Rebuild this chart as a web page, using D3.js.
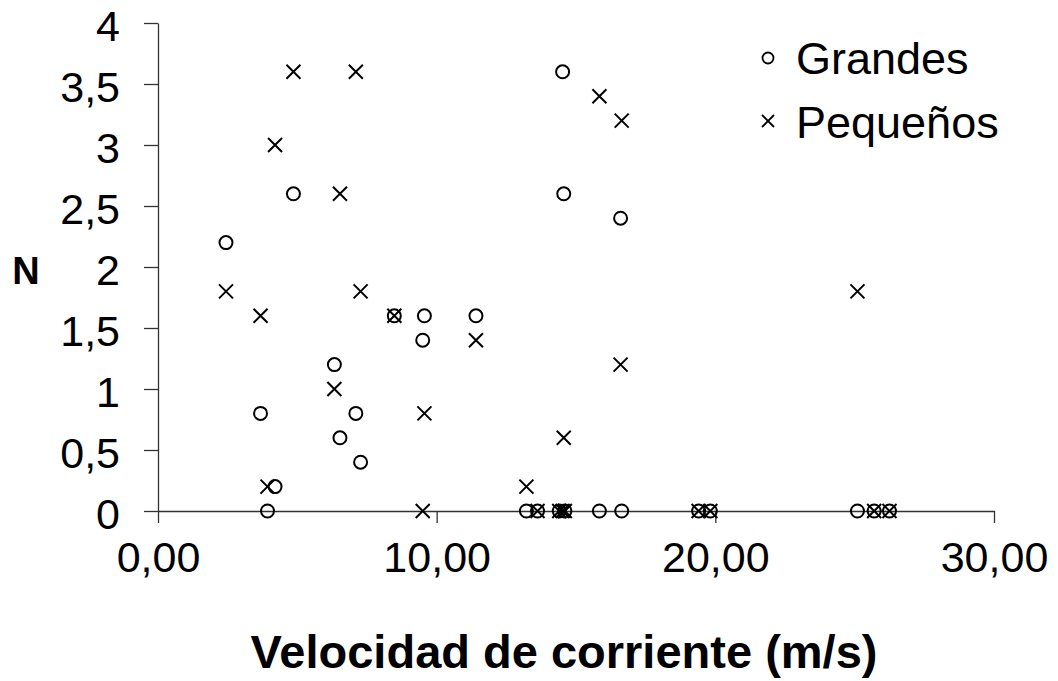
<!DOCTYPE html>
<html>
<head>
<meta charset="utf-8">
<script src="https://cdn.jsdelivr.net/npm/d3@7/dist/d3.min.js"></script>
<style>
  html, body { margin: 0; padding: 0; background: #fff; }
  svg { display: block; font-family: "Liberation Sans", Arial, sans-serif; }
</style>
</head>
<body>
<svg id="chart" width="1058" height="681"></svg>
<script>
// Velocidad de corriente (m/s) at each sampling site
const velocidad = [2.44, 3.68, 3.93, 4.20, 4.86, 6.33, 6.53, 7.10, 7.27, 8.48, 9.50, 9.56, 11.41,
  13.22, 13.62, 14.40, 14.52, 14.56, 14.60, 15.84, 16.60, 16.64, 19.40, 19.82, 25.10, 25.70, 26.25];
// N for large individuals
const grandes = [2.2, 0.8, 0, 0.2, 2.6, 1.2, 0.6, 0.8, 0.4, 1.6, 1.4, 1.6, 1.6,
  0, 0, 0, 3.6, 2.6, 0, 0, 2.4, 0, 0, 0, 0, 0, 0];
// N for small individuals
const pequenos = [1.8, 1.6, 0.2, 3.0, 3.6, 1.0, 2.6, 3.6, 1.8, 1.6, 0, 0.8, 1.4,
  0.2, 0, 0, 0, 0.6, 0, 3.4, 1.2, 3.2, 0, 0, 1.8, 0, 0];

const xTicks = [0, 10, 20, 30];
const yTicks = [0, 0.5, 1, 1.5, 2, 2.5, 3, 3.5, 4];
const seriesNames = ["Grandes", "Pequeños"];

const es = d3.formatLocale({ decimal: ",", thousands: ".", grouping: [3], currency: ["", "€"] });
const fmtX = es.format(".2f");
const fmtY = v => es.format("~g")(v);

const svg = d3.select("#chart");
const FONT = 43;

const x = d3.scaleLinear().domain([0, 30]).range([158, 994]);
const y = d3.scaleLinear().domain([0, 4]).range([511, 23]);

const axisColor = "#333";

// y axis
const gy = svg.append("g").attr("transform", `translate(${x(0)},0)`)
  .call(d3.axisLeft(y).tickValues(yTicks).tickSize(14).tickSizeOuter(0).tickFormat(fmtY).tickPadding(24));
gy.select(".domain").attr("stroke", axisColor).attr("stroke-width", 1.3);
gy.selectAll(".tick line").attr("stroke", axisColor).attr("stroke-width", 1.3);
gy.selectAll(".tick text").attr("font-size", FONT).attr("fill", "#000")
  .attr("font-family", "Liberation Sans, Arial, sans-serif").attr("dy", "0.4em");

// x axis
const gx = svg.append("g").attr("transform", `translate(0,${y(0)})`)
  .call(d3.axisBottom(x).tickValues(xTicks).tickSize(12).tickSizeOuter(0).tickFormat(fmtX).tickPadding(18));
gx.select(".domain").attr("stroke", axisColor).attr("stroke-width", 1.3);
gx.selectAll(".tick line").attr("stroke", axisColor).attr("stroke-width", 1.3);
gx.selectAll(".tick text").attr("font-size", FONT).attr("fill", "#000")
  .attr("font-family", "Liberation Sans, Arial, sans-serif");

// axis titles
svg.append("text").attr("x", 564).attr("y", 668).attr("text-anchor", "middle")
  .attr("font-size", 47).attr("font-weight", "bold").text("Velocidad de corriente (m/s)");
svg.append("text").attr("x", 26).attr("y", 284).attr("text-anchor", "middle")
  .attr("font-size", 38).attr("font-weight", "bold").text("N");

// markers
const circleR = 6.5;
const crossH = 7;
function crossPath(cx, cy, h) {
  return `M${cx - h},${cy - h}L${cx + h},${cy + h}M${cx - h},${cy + h}L${cx + h},${cy - h}`;
}

const pts = velocidad.map((v, i) => ({ v, g: grandes[i], p: pequenos[i] }));

svg.append("g").selectAll("circle").data(pts).join("circle")
  .attr("cx", d => x(d.v)).attr("cy", d => y(d.g)).attr("r", circleR)
  .attr("fill", "none").attr("stroke", "#000").attr("stroke-width", 2);

svg.append("g").selectAll("path").data(pts).join("path")
  .attr("d", d => crossPath(x(d.v), y(d.p), crossH))
  .attr("fill", "none").attr("stroke", "#000").attr("stroke-width", 2);

// legend
const legend = svg.append("g");
legend.append("circle").attr("cx", 768).attr("cy", 58).attr("r", 5.5)
  .attr("fill", "none").attr("stroke", "#000").attr("stroke-width", 1.8);
legend.append("path").attr("d", crossPath(768, 121, 6))
  .attr("fill", "none").attr("stroke", "#000").attr("stroke-width", 1.8);
legend.selectAll("text").data(seriesNames).join("text")
  .attr("x", 796).attr("y", (d, i) => 74 + i * 64)
  .attr("font-size", 45).attr("fill", "#000").text(d => d);
</script>
</body>
</html>
